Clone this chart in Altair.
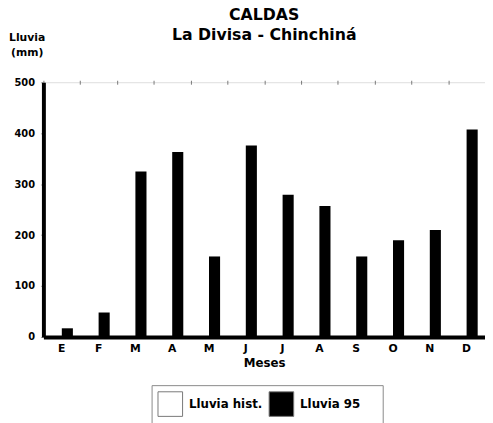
import altair as alt
import pandas as pd

MESES = ["Enero", "Febrero", "Marzo", "Abril", "Mayo", "Junio", "Julio",
         "Agosto", "Septiembre", "Octubre", "Noviembre", "Diciembre"]
LLUVIA_95 = [17, 48, 325, 363, 158, 376, 279, 257, 158, 190, 210, 407]
SERIES = ["Lluvia hist.", "Lluvia 95"]
Y_TICKS = [0, 100, 200, 300, 400, 500]

df = pd.DataFrame({"mes": MESES, "lluvia": LLUVIA_95, "serie": "Lluvia 95"})

FONT = "DejaVu Sans"

x_scale = alt.Scale(domain=MESES, paddingInner=0, paddingOuter=0)

bars = alt.Chart(df).mark_bar(color="black").encode(
    x=alt.X("mes:N", scale=x_scale, sort=MESES,
            axis=alt.Axis(title="Meses", labelAngle=0,
                          labelExpr="substring(datum.label, 0, 1)",
                          labelFont=FONT, labelFontWeight="bold", labelFontSize=11,
                          labelColor="black", labelPadding=6,
                          titleFont=FONT, titleFontWeight="bold", titleFontSize=12,
                          titleColor="black", titlePadding=4,
                          domainColor="black", domainWidth=4, ticks=False)),
    xOffset=alt.XOffset("serie:N", scale=alt.Scale(domain=SERIES, paddingInner=0, paddingOuter=0.66)),
    y=alt.Y("lluvia:Q", scale=alt.Scale(domain=[0, 500], nice=False),
            axis=alt.Axis(values=Y_TICKS, title=["Lluvia", "(mm)"], titleAngle=0,
                          titleAlign="center", titleBaseline="top", titleX=-17, titleY=-51,
                          titleFont=FONT, titleFontWeight="bold", titleFontSize=11,
                          titleColor="black", titleLineHeight=15,
                          labelFont=FONT, labelFontWeight="bold", labelFontSize=10,
                          labelColor="black", labelPadding=6,
                          domainColor="black", domainWidth=4,
                          tickColor="#aaaaaa", tickSize=3, grid=False)),
    color=alt.Color("serie:N", scale=alt.Scale(domain=SERIES, range=["white", "black"]),
                    legend=alt.Legend(title="\u00a0", titleOrient="right", titlePadding=17,
                                      titleFontSize=12, titleFont=FONT,
                                      orient="none", legendX=110, legendY=308,
                                      direction="horizontal",
                                      symbolType="square",
                                      symbolSize=625, symbolStrokeColor="#777777",
                                      symbolStrokeWidth=1, symbolOpacity=1,
                                      labelFont=FONT, labelFontWeight="bold",
                                      labelFontSize=12, labelColor="black",
                                      labelOffset=6, columnPadding=4,
                                      padding=6, strokeColor="#888888",
                                      fillColor="white")),
)

ticks = alt.Chart(df).mark_point(opacity=0).encode(
    x=alt.X("mes:N", scale=x_scale, sort=MESES,
            axis=alt.Axis(title=None, labels=False, domain=False, ticks=True,
                          bandPosition=0, tickSize=4, tickOffset=0,
                          tickColor="#777777", tickWidth=1, offset=-2)),
    y=alt.Y("lluvia:Q"),
)

chart = alt.layer(bars, ticks).resolve_axis(x="independent").properties(
    width=449, height=259,
    autosize=alt.AutoSizeParams(type="none"),
    padding={"left": 36, "top": 72, "right": 0, "bottom": 84},
    title=alt.Title(["CALDAS", "La Divisa - Chinchiná"], font=FONT, fontWeight="bold",
                    fontSize=16, color="black", anchor="middle", baseline="alphabetic",
                    offset=-24, lineHeight=20),
).configure_view(stroke=None).configure(background="white")

chart.save("out.html", embed_options={"renderer": "svg", "actions": False})
